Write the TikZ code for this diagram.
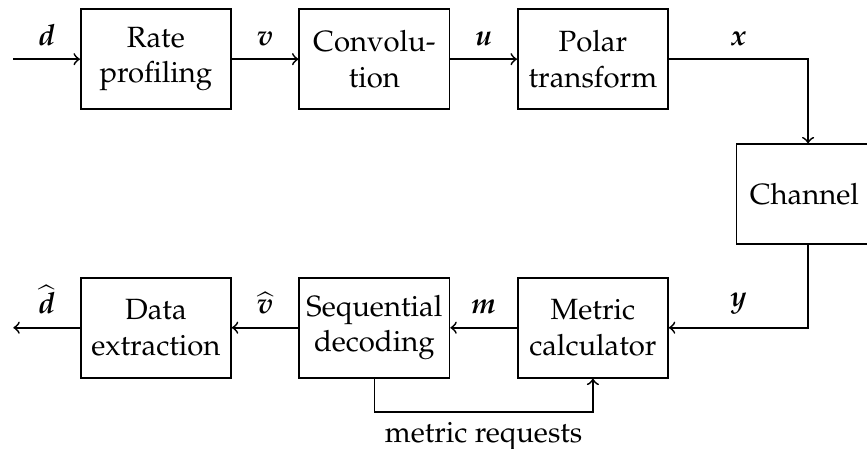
\documentclass[tikz,border=0pt]{standalone}
\usepackage[T1]{fontenc}
\usepackage{mathpazo}
\usepackage{amsmath}
\usetikzlibrary{positioning}

\begin{document}
\begin{tikzpicture}[
    semithick,
    box/.style={draw,minimum height=12mm,minimum width=18mm,align=center,inner sep=1pt},
    arr/.style={->},
    lbl/.style={above=1pt}
  ]
  \useasboundingbox (-18.7mm,7.1mm) rectangle (85.3mm,-46.7mm);

  % transmitter chain
  \node[box] (rate) {Rate\\profiling};
  \node[box,right=8mm of rate]  (conv)  {Convolu-\\tion};
  \node[box,right=8mm of conv]  (polar) {Polar\\transform};
  \node[box,below right=4mm and 8mm of polar,minimum width=16.3mm] (channel) {Channel};

  % receiver chain
  \node[box,below=20mm of rate]    (extract) {Data\\extraction};
  \node[box,right=8mm of extract]  (seq)     {Sequential\\decoding};
  \node[box,right=8mm of seq]      (metric)  {Metric\\calculator};

  \coordinate[left=8mm of rate]     (in);
  \coordinate[left=8mm of extract]  (out);
  \coordinate[right=16.7mm of polar] (xturn);
  \coordinate[below=4mm of seq]     (req);

  \draw[arr] (in)   -- node[lbl] {$\boldsymbol{d}$} (rate);
  \draw[arr] (rate) -- node[lbl] {$\boldsymbol{v}$} (conv);
  \draw[arr] (conv) -- node[lbl] {$\boldsymbol{u}$} (polar);
  \draw[arr] (polar) -- node[lbl] {$\boldsymbol{x}$} (xturn) -- (xturn |- channel.north);
  \draw[arr] (xturn |- channel.south) -- (xturn |- metric)
             -- node[lbl] {$\boldsymbol{y}$} (metric);
  \draw[arr] (metric)  -- node[lbl] {$\boldsymbol{m}$} (seq);
  \draw[arr] (seq)     -- node[lbl] {$\widehat{\boldsymbol{v}}$} (extract);
  \draw[arr] (extract) -- node[lbl] {$\widehat{\boldsymbol{d}}$} (out);

  % metric requests loop
  \draw[arr] (seq.south) -- (req) -- node[below] {metric requests} (req -| metric.south)
             -- (metric.south);
\end{tikzpicture}
\end{document}
